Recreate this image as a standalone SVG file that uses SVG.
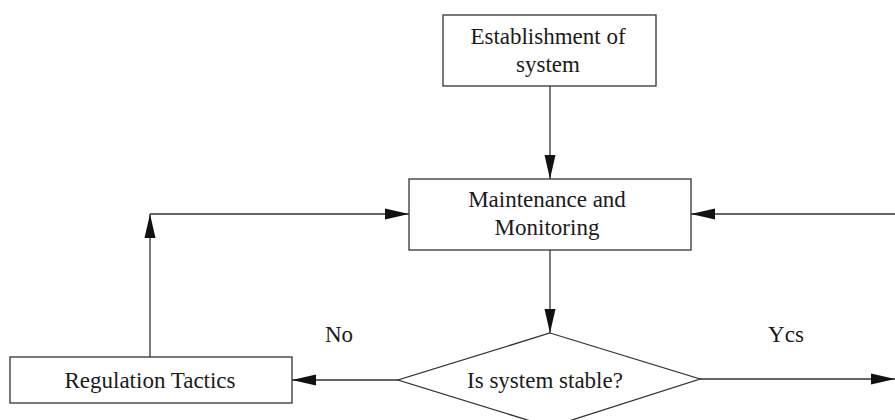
<svg xmlns="http://www.w3.org/2000/svg" width="895" height="420" viewBox="0 0 895 420">
<style>
.box{fill:#fff;stroke:#333;stroke-width:1.3}
.ln{fill:none;stroke:#333;stroke-width:1.3}
.t{font-family:"Liberation Serif","Times New Roman",serif;font-size:23px;fill:#1a1a1a;text-anchor:middle}
</style>
<defs>
<marker id="ah" markerUnits="userSpaceOnUse" markerWidth="24" markerHeight="12" refX="24" refY="6" orient="auto">
<path d="M0,0.5 L24,6 L0,11.5 Z" fill="#111"/>
</marker>
</defs>
<rect width="895" height="420" fill="#fff"/>
<g id="connectors">
<path class="ln" d="M550,86 V179" marker-end="url(#ah)"/>
<path class="ln" d="M550,250 V333" marker-end="url(#ah)"/>
<path class="ln" d="M398,380 H292" marker-end="url(#ah)"/>
<path class="ln" d="M700,379 H895" marker-end="url(#ah)"/>
<path class="ln" d="M895,214 H691" marker-end="url(#ah)"/>
<path class="ln" d="M150,357 V214" marker-end="url(#ah)"/>
<path class="ln" d="M150,214 H409" marker-end="url(#ah)"/>
<text class="t" x="339" y="342">No</text>
<text class="t" x="786" y="342">Ycs</text>
</g>
<g id="establishment">
<rect class="box" x="443" y="15" width="213" height="71"/>
<text class="t" x="548" y="44">Establishment of</text>
<text class="t" x="548" y="72">system</text>
</g>
<g id="maintenance">
<rect class="box" x="409" y="179" width="282" height="71"/>
<text class="t" x="547" y="207">Maintenance and</text>
<text class="t" x="547" y="235">Monitoring</text>
</g>
<g id="regulation">
<rect class="box" x="10" y="357" width="282" height="46"/>
<text class="t" x="150" y="388">Regulation Tactics</text>
</g>
<g id="decision">
<path class="box" d="M550,333 L700,379 L550,427 L398,380 Z"/>
<text class="t" x="545" y="388">Is system stable?</text>
</g>
</svg>
